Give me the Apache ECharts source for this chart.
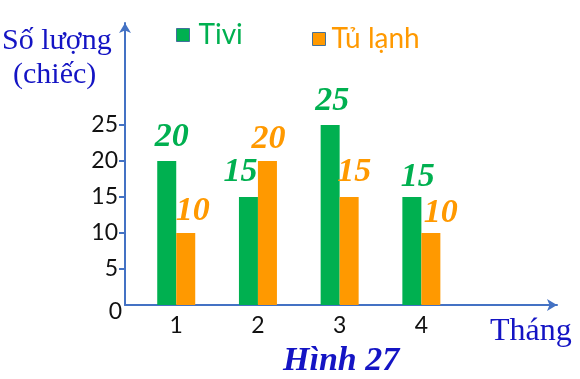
<!DOCTYPE html>
<html>
<head>
<meta charset="utf-8">
<script src="https://cdn.jsdelivr.net/npm/echarts@6/dist/echarts.min.js"></script>
<style>html,body{margin:0;padding:0;background:#fff}#c{width:580px;height:379px}</style>
</head>
<body>
<div id="c"></div>
<script>
// ---- data ----
const months = [1, 2, 3, 4];
const monthLabels = ['1', '2', '3', '4'];
const tivi = [20, 15, 25, 15];
const tuLanh = [10, 20, 15, 10];
const yTicks = [0, 5, 10, 15, 20, 25];
const seriesNames = ['Tivi', 'Tủ lạnh'];

// ---- label nudges (style only) ----
const tiviLabelShift = [[5, 1], [-8, 0], [2, 1], [6, 5]];
const tuLanhLabelShift = [[7, 3], [1, 3], [5, 0], [10, 5]];

const GREEN = '#00B050', ORANGE = '#FF9900', AXIS = '#4472C4', TXT = '#1414C4';
const labelFont = {fontFamily: 'Liberation Serif', fontStyle: 'italic', fontWeight: 'bold', fontSize: 34};

function mk(vals, shifts) {
  return months.map((m, i) => ({
    value: [m, vals[i]],
    label: {offset: shifts[i]}
  }));
}

const chart = echarts.init(document.getElementById('c'), null, {renderer: 'canvas'});
chart.setOption({
  animation: false,
  grid: {left: 125, right: 23, top: 23, bottom: 74, containLabel: false},
  xAxis: {
    type: 'value', min: 0.373, max: 5.66,
    splitLine: {show: false},
    axisLine: {show: true, lineStyle: {color: AXIS, width: 2}, symbol: ['none', 'arrow'], symbolSize: [9, 10]},
    axisTick: {show: false},
    axisLabel: {
      customValues: months,
      formatter: v => monthLabels[months.indexOf(v)] ?? '',
      color: '#111', fontFamily: 'Lato', fontSize: 23, margin: 9
    }
  },
  yAxis: {
    type: 'value', min: 0, max: 39.17,
    splitLine: {show: false},
    axisLine: {show: true, lineStyle: {color: AXIS, width: 2}, symbol: ['none', 'arrow'], symbolSize: [9, 10]},
    axisTick: {show: true, length: 6, lineStyle: {color: AXIS, width: 2}, customValues: yTicks.filter(v => v > 0)},
    axisLabel: {
      customValues: yTicks,
      margin: 3,
      formatter: v => v === 0 ? '{z|0}' : '{n|' + v + '}',
      rich: {
        n: {color: '#111', fontFamily: 'Lato', fontSize: 23, padding: [0, 4, 0, 0]},
        z: {color: '#111', fontFamily: 'Lato', fontSize: 23, padding: [14, 0, 0, 0]}
      }
    }
  },
  legend: [
    {data: [{name: seriesNames[0], textStyle: {color: GREEN}}], left: 176, top: 21, padding: 0, icon: 'rect',
     itemWidth: 13, itemHeight: 13, itemStyle: {borderColor: '#41719C', borderWidth: 1},
     textStyle: {fontFamily: 'Lato', fontSize: 28, padding: [0, 0, 0, 4]}},
    {data: [{name: seriesNames[1], textStyle: {color: ORANGE}}], left: 312, top: 25, padding: 0, icon: 'rect',
     itemWidth: 13, itemHeight: 13, itemStyle: {borderColor: '#41719C', borderWidth: 1},
     textStyle: {fontFamily: 'Lato', fontSize: 28, padding: [0, 0, 0, 1]}}
  ],
  series: [
    {name: seriesNames[0], type: 'bar', barWidth: 19, barGap: '0%', itemStyle: {color: GREEN},
     data: mk(tivi, tiviLabelShift),
     label: {show: true, position: 'top', distance: 8, color: GREEN, ...labelFont, formatter: p => p.value[1]}},
    {name: seriesNames[1], type: 'bar', barWidth: 19, barGap: '0%', itemStyle: {color: ORANGE},
     data: mk(tuLanh, tuLanhLabelShift),
     label: {show: true, position: 'top', distance: 8, color: ORANGE, ...labelFont, formatter: p => p.value[1]}}
  ],
  graphic: [
    {type: 'text', left: 2, top: 26, style: {text: 'Số lượng', font: '30px "Liberation Serif"', fill: TXT}},
    {type: 'text', left: 13, top: 60, style: {text: '(chiếc)', font: '30px "Liberation Serif"', fill: TXT}},
    {type: 'text', left: 490, top: 316, style: {text: 'Tháng', font: '32px "Liberation Serif"', fill: TXT}},
    {type: 'text', left: 283, top: 344, style: {text: 'Hình 27', font: 'italic bold 34px "Liberation Serif"', fill: TXT}}
  ]
});
</script>
</body>
</html>
